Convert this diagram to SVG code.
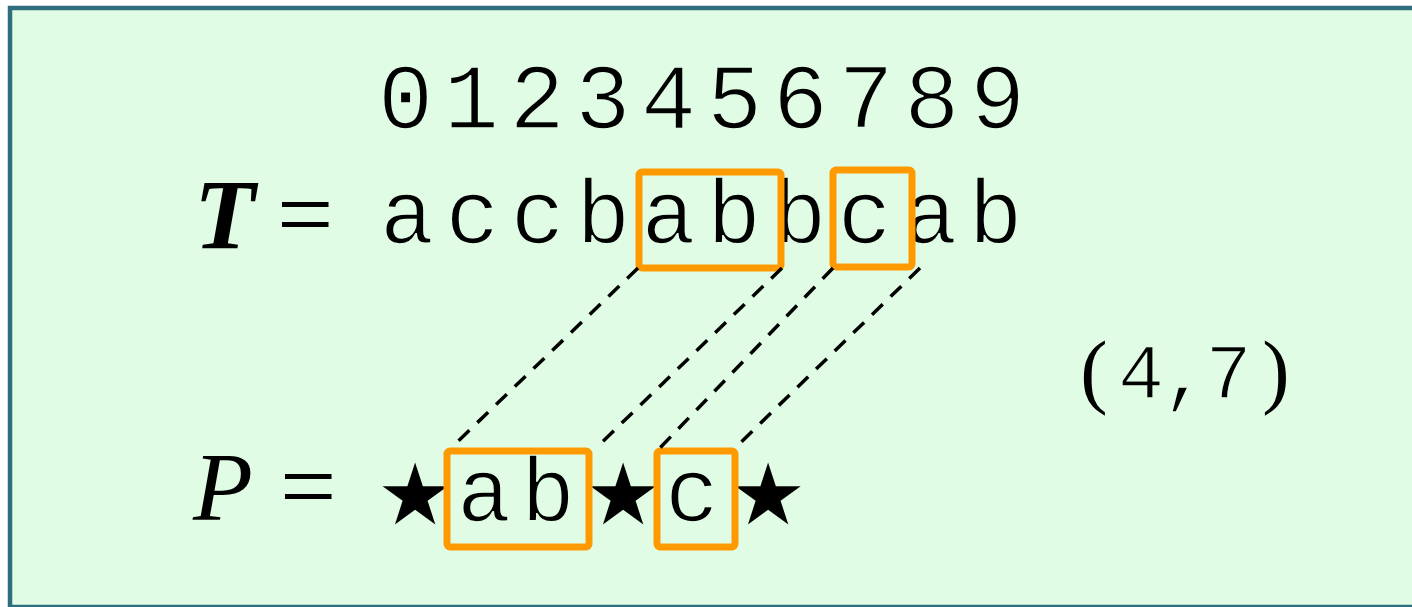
<svg xmlns="http://www.w3.org/2000/svg" width="1412" height="607" viewBox="0 0 1412 607">
<style>
.mono{font-family:"Liberation Mono","Courier New",monospace;fill:#000;stroke:#e0fce4;stroke-width:1.6}
.serif{font-family:"Liberation Serif","Times New Roman",serif;fill:#000}
.star{font-family:"DejaVu Sans",sans-serif;fill:#000}
.box{fill:none;stroke:#ff9900;stroke-width:7;stroke-linejoin:round}
.dash{stroke:#000;stroke-width:3.5;stroke-dasharray:15 11;fill:none}
</style>
<rect x="10" y="8" width="1420" height="599" fill="#e0fce4" stroke="#2e6e7e" stroke-width="4.5"/>
<g id="indices">
<text class="mono" font-size="92" y="128" x="377.9 443.7 509.5 575.3 641.1 706.9 772.7 838.5 904.3 970.1">0123456789</text>
</g>
<g id="text-T">
<text class="serif" font-size="100" font-style="italic" font-weight="bold" x="194" y="248">T</text>
<text class="serif" font-size="100" x="277" y="248">=</text>
<text class="mono" font-size="90" y="243" x="380 445.4 510.8 576.2 641.6 707 772.4 837.8 903.2 968.6">accbabbcab</text>
</g>
<g id="box-T-ab"><rect class="box" x="639" y="172" width="142" height="96" rx="3"/></g>
<g id="box-T-c"><rect class="box" x="833" y="170" width="79" height="97" rx="3"/></g>
<g id="text-P">
<text class="serif" font-size="98" font-style="italic" x="193" y="520">P</text>
<text class="serif" font-size="100" x="280" y="520">=</text>
<text class="star" font-size="85" text-anchor="middle" x="415" y="524">★</text>
<text class="mono" font-size="90" y="521" x="457 521">ab</text>
<text class="star" font-size="85" text-anchor="middle" x="623" y="524">★</text>
<text class="mono" font-size="90" y="521" x="665">c</text>
<text class="star" font-size="85" text-anchor="middle" x="768" y="524">★</text>
</g>
<g id="box-P-ab"><rect class="box" x="447" y="451" width="142" height="96" rx="3"/></g>
<g id="box-P-c"><rect class="box" x="657" y="451" width="78" height="96" rx="3"/></g>
<g id="connectors">
<line class="dash" x1="638" y1="268" x2="452" y2="447"/>
<line class="dash" x1="782" y1="268" x2="596" y2="448"/>
<line class="dash" x1="833" y1="268" x2="656" y2="452"/>
<line class="dash" x1="920" y1="268" x2="735" y2="448"/>
</g>
<g id="pair">
<text class="serif" font-size="82" text-anchor="middle" x="1094" y="398">(</text>
<text class="mono" font-size="77" y="398" x="1117.9 1161.9 1205.4">4,7</text>
<text class="serif" font-size="82" text-anchor="middle" x="1276" y="398">)</text>
</g>
</svg>
